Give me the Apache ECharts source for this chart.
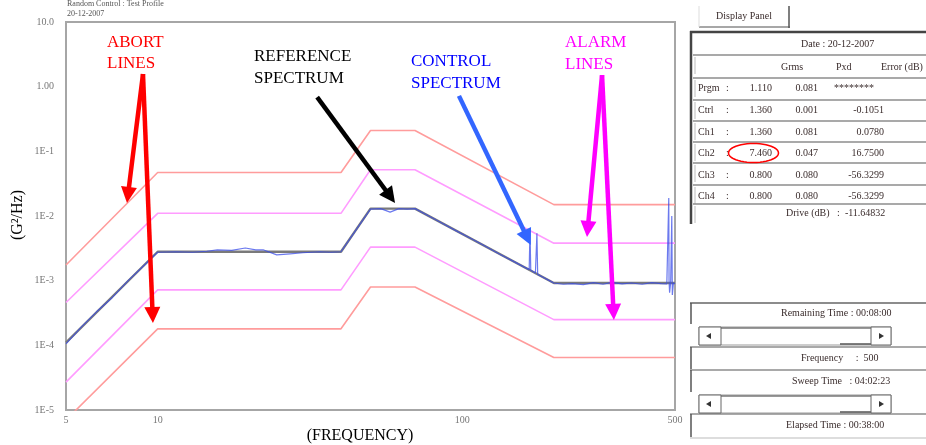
<!DOCTYPE html>
<html><head><meta charset="utf-8">
<script src="https://cdn.jsdelivr.net/npm/echarts@6/dist/echarts.min.js"></script>
<style>html,body{margin:0;padding:0;background:#fff;}#c{width:926px;height:445px;}</style>
</head><body><div id="c"></div>
<script>
// ---------- data ----------
const profileFreq   = [5, 10, 40, 50, 70, 200, 500];
const referencePsd  = [1.1e-4, 2.8e-3, 2.8e-3, 1.3e-2, 1.3e-2, 9.2e-4, 9.2e-4];
const alarmHighPsd  = [4.6e-4, 1.1e-2, 1.1e-2, 5.2e-2, 5.2e-2, 3.8e-3, 3.8e-3];
const alarmLowPsd   = [2.7e-5, 7.2e-4, 7.2e-4, 3.3e-3, 3.3e-3, 2.5e-4, 2.5e-4];
const abortHighPsd  = [1.75e-3, 4.7e-2, 4.7e-2, 0.21, 0.21, 1.5e-2, 1.5e-2];
const abortLowPsd   = [7e-6, 1.8e-4, 1.8e-4, 8e-4, 8e-4, 6.5e-5, 6.5e-5];

const controlFreq = [5, 5.6, 6.3, 7.1, 8, 9, 10, 11.5, 13, 14.5, 15.7, 17.5, 19.4, 21, 22.2, 24.6, 27.2, 30, 34, 37, 40,
  43, 46, 50, 54, 58, 62, 66, 70, 78, 86, 95, 105, 118, 132, 148, 160, 166, 167, 168, 174, 176, 177, 185, 192, 200,
  215, 230, 250, 270, 290, 310, 335, 360, 390, 420, 450, 470, 476, 477, 478, 480, 484, 488, 490, 494, 500];
const controlPsd = [1.05e-4, 1.9e-4, 3.3e-4, 5.5e-4, 1.0e-3, 1.7e-3, 2.75e-3, 2.8e-3, 2.75e-3, 2.85e-3, 3.0e-3, 2.95e-3,
  3.2e-3, 3.0e-3, 3.0e-3, 2.5e-3, 2.6e-3, 2.7e-3, 2.8e-3, 2.75e-3, 2.8e-3,
  4.6e-3, 7.3e-3, 1.28e-2, 1.3e-2, 1.15e-2, 1.3e-2, 1.28e-2, 1.3e-2, 9.9e-3, 7.7e-3, 6.0e-3, 4.7e-3, 3.5e-3, 2.6e-3,
  1.97e-3, 1.62e-3, 1.48e-3, 6.1e-3, 1.45e-3, 1.31e-3, 5.4e-3, 1.25e-3, 1.12e-3, 1.02e-3, 9.2e-4,
  8.8e-4, 9.0e-4, 8.7e-4, 9.3e-4, 8.8e-4, 9.4e-4, 8.9e-4, 9.2e-4, 8.8e-4, 9.3e-4, 9.0e-4, 8.9e-4, 9.0e-4, 1.9e-2,
  1.0e-3, 6.5e-4, 9.5e-4, 1.0e-2, 6.0e-4, 9.2e-4, 9.0e-4];

const xTickValues = [5, 10, 100, 500];
const xTickLabels = ['5', '10', '100', '500'];
const yTickValues = [10, 1, 0.1, 0.01, 0.001, 1e-4, 1e-5];
const yTickLabels = ['10.0', '1.00', '1E-1', '1E-2', '1E-3', '1E-4', '1E-5'];

// annotation arrows in data coordinates [freq, psd]
const arrowStarts = [[8.95, 1.57], [8.95, 1.57], [33.4, 0.69], [97.6, 0.72], [288, 1.51], [288, 1.51]];
const arrowTips   = [[7.93, 0.0159], [9.65, 2.22e-4], [60.2, 0.0159], [168, 3.56e-3], [257, 4.73e-3], [315, 2.47e-4]];
const arrowColors = ['#ff0000', '#ff0000', '#000000', '#3366ff', '#ff00ff', '#ff00ff'];

const panelRows = [
  ['Prgm', '1.110', '0.081', '********'],
  ['Ctrl', '1.360', '0.001', '-0.1051'],
  ['Ch1', '1.360', '0.081', '0.0780'],
  ['Ch2', '7.460', '0.047', '16.7500'],
  ['Ch3', '0.800', '0.080', '-56.3299'],
  ['Ch4', '0.800', '0.080', '-56.3299']
];

// ---------- chart ----------
function labelFor(v, vals, labels) {
  let best = 0, bd = Infinity;
  for (let i = 0; i < vals.length; i++) {
    const d = Math.abs(Math.log10(v) - Math.log10(vals[i]));
    if (d < bd) { bd = d; best = i; }
  }
  return bd < 0.05 ? labels[best] : '';
}
const zip = (a, b) => a.map((x, i) => [x, b[i]]);

const chart = echarts.init(document.getElementById('c'));
const SERIF = '"Liberation Serif", "DejaVu Serif", serif';
const lineSeries = (name, ys, color, w, z) => ({
  name, type: 'line', data: zip(profileFreq, ys), symbol: 'none', clip: true, z,
  lineStyle: { color, width: w }, silent: true
});

chart.setOption({
  animation: false,
  grid: { left: 66, right: 251, top: 22, bottom: 35, show: true, borderColor: '#a6a6a6', borderWidth: 2 },
  xAxis: {
    type: 'log', logBase: 10, min: 5, max: 500,
    axisLine: { show: false }, axisTick: { show: false }, splitLine: { show: false },
    axisLabel: { showMinLabel: true, showMaxLabel: true, color: '#777', fontSize: 10, fontFamily: SERIF, margin: 5,
      formatter: v => labelFor(v, xTickValues, xTickLabels) }
  },
  yAxis: {
    type: 'log', logBase: 10, min: 1e-5, max: 10,
    axisLine: { show: false }, axisTick: { show: false }, splitLine: { show: false },
    axisLabel: { showMinLabel: true, showMaxLabel: true, color: '#777', fontSize: 10, fontFamily: SERIF, margin: 12,
      formatter: v => labelFor(v, yTickValues, yTickLabels) }
  },
  series: [
    lineSeries('Abort high', abortHighPsd, '#ff9c9c', 1.6, 2),
    lineSeries('Abort low', abortLowPsd, '#ff9c9c', 1.6, 2),
    lineSeries('Alarm high', alarmHighPsd, '#ff9cff', 1.6, 2),
    lineSeries('Alarm low', alarmLowPsd, '#ff9cff', 1.6, 2),
    lineSeries('Reference', referencePsd, '#7a7a7a', 2.4, 3),
    { name: 'Control', type: 'line', data: zip(controlFreq, controlPsd), symbol: 'none', clip: true, z: 4,
      lineStyle: { color: '#3a4ce8', width: 1.2, opacity: 0.75 }, silent: true }
  ]
});

// ---------- overlays ----------
function arrowEls(p0, p1, color) {
  const dx = p1[0] - p0[0], dy = p1[1] - p0[1], L = Math.hypot(dx, dy);
  const ux = dx / L, uy = dy / L, hl = 16, hw = 8;
  const bx = p1[0] - ux * hl, by = p1[1] - uy * hl;
  return [
    { type: 'line', silent: true, z: 100, shape: { x1: p0[0], y1: p0[1], x2: bx + ux * 3, y2: by + uy * 3 },
      style: { stroke: color, lineWidth: 4.5, lineCap: 'butt' } },
    { type: 'polygon', silent: true, z: 100, shape: { points: [[p1[0], p1[1]], [bx - uy * hw, by + ux * hw], [bx + uy * hw, by - ux * hw]] },
      style: { fill: color } }
  ];
}
function txt(x, y, s, opt) {
  return Object.assign({ type: 'text', silent: true, z: 110, x, y,
    style: Object.assign({ text: s, fill: '#3a2c2c', font: '10px ' + SERIF, verticalAlign: 'middle' }, opt || {}) });
}
function bigTxt(x, y, s, color) {
  return { type: 'text', silent: true, z: 110, x, y,
    style: { text: s, fill: color, font: '17px ' + SERIF, verticalAlign: 'middle' } };
}
function ln(x1, y1, x2, y2, c, w) {
  return { type: 'line', silent: true, z: 90, shape: { x1, y1, x2, y2 }, style: { stroke: c, lineWidth: w || 1 } };
}
function scrollbar(y) {
  const els = [];
  els.push({ type: 'rect', silent: true, z: 90, shape: { x: 699, y, width: 192, height: 18 }, style: { fill: '#fff', stroke: '#9a9a9a', lineWidth: 1 } });
  els.push(ln(721, y + 1, 871, y + 1, '#777', 1.5));
  els.push(ln(840, y + 17, 871, y + 17, '#555', 1.5));
  [[699, 22], [871, 20]].forEach(([x, w]) => {
    els.push({ type: 'rect', silent: true, z: 91, shape: { x, y, width: w, height: 18 }, style: { fill: '#fff', stroke: '#666', lineWidth: 1 } });
    els.push(ln(x + 1, y + 17, x + w, y + 17, '#444', 1.5));
    els.push(ln(x + w - 1, y + 1, x + w - 1, y + 17, '#444', 1.5));
  });
  els.push({ type: 'polygon', silent: true, z: 92, shape: { points: [[706, y + 9], [711, y + 6], [711, y + 12]] }, style: { fill: '#333' } });
  els.push({ type: 'polygon', silent: true, z: 92, shape: { points: [[884, y + 9], [879, y + 6], [879, y + 12]] }, style: { fill: '#333' } });
  return els;
}

function buildOverlay() {
  const els = [];
  // annotation texts
  els.push(bigTxt(107, 43, 'ABORT', '#ff0000'), bigTxt(107, 64, 'LINES', '#ff0000'));
  els.push(bigTxt(254, 57, 'REFERENCE', '#000000'), bigTxt(254, 79, 'SPECTRUM', '#000000'));
  els.push(bigTxt(411, 62, 'CONTROL', '#0000ff'), bigTxt(411, 84, 'SPECTRUM', '#0000ff'));
  els.push(bigTxt(565, 43, 'ALARM', '#ff00ff'), bigTxt(565, 65, 'LINES', '#ff00ff'));
  // arrows
  for (let i = 0; i < arrowStarts.length; i++) {
    const p0 = chart.convertToPixel({ gridIndex: 0 }, arrowStarts[i]);
    const p1 = chart.convertToPixel({ gridIndex: 0 }, arrowTips[i]);
    els.push(...arrowEls(p0, p1, arrowColors[i]));
  }
  // axis titles
  els.push({ type: 'text', silent: true, z: 110, x: 18, y: 215, rotation: Math.PI / 2,
    style: { text: '(G²/Hz)', fill: '#000', font: '16px ' + SERIF, align: 'center', verticalAlign: 'middle' } });
  els.push({ type: 'text', silent: true, z: 110, x: 360, y: 436,
    style: { text: '(FREQUENCY)', fill: '#000', font: '16px ' + SERIF, align: 'center', verticalAlign: 'middle' } });
  // top-left header
  els.push(txt(67, 4, 'Random Control : Test Profile', { fill: '#555', font: '8px ' + SERIF }));
  els.push(txt(67, 14, '20-12-2007', { fill: '#555', font: '8px ' + SERIF }));

  // ----- right panel -----
  // tab
  els.push(ln(699, 27, 790, 27, '#8a8a8a', 1.5), ln(789, 6, 789, 28, '#555', 1.5), ln(699, 6, 699, 27, '#ddd', 1));
  els.push(txt(744, 16, 'Display Panel', { align: 'center' }));
  // main box
  els.push(ln(690, 32, 926, 32, '#444', 2.5), ln(691, 31, 691, 224, '#444', 2.5));
  [55, 78, 100, 121, 142, 163, 185, 204].forEach(y => {
    els.push(ln(693, y, 926, y, '#8c8c8c', 1.5));
    els.push(ln(695, y + 2, 695, y + 19, '#bbb', 1));
  });
  els.push(txt(801, 44, 'Date : 20-12-2007'));
  els.push(txt(781, 67, 'Grms'), txt(836, 67, 'Pxd'), txt(881, 67, 'Error (dB)'));
  const rowY = [88, 110, 132, 153, 175, 196];
  panelRows.forEach((r, i) => {
    const y = rowY[i];
    els.push(txt(698, y, r[0]), txt(726, y, ':'));
    els.push(txt(772, y, r[1], { align: 'right' }));
    els.push(txt(818, y, r[2], { align: 'right' }));
    els.push(txt(i === 0 ? 834 : 884, y, r[3], { align: i === 0 ? 'left' : 'right' }));
  });
  els.push(txt(786, 213, 'Drive (dB)   :  -11.64832'));
  // ellipse around Ch2 Grms
  const pts = [];
  for (let k = 0; k < 48; k++) { const a = k / 48 * Math.PI * 2; pts.push([753.5 + 25 * Math.cos(a), 153 + 9.5 * Math.sin(a)]); }
  els.push({ type: 'polygon', silent: true, z: 120, shape: { points: pts }, style: { fill: null, stroke: '#ff0000', lineWidth: 1.5 } });

  // bottom panel
  els.push(ln(690, 303, 926, 303, '#8c8c8c', 2), ln(691, 303, 691, 324, '#555', 1.5));
  els.push(txt(781, 313, 'Remaining Time : 00:08:00'));
  els.push(...scrollbar(327));
  els.push(ln(690, 347, 926, 347, '#8c8c8c', 1.5), ln(691, 347, 691, 369, '#555', 1.5));
  els.push(txt(801, 358, 'Frequency     :  500'));
  els.push(ln(690, 370, 926, 370, '#8c8c8c', 1.5), ln(691, 370, 691, 392, '#555', 1.5));
  els.push(txt(792, 381, 'Sweep Time   : 04:02:23'));
  els.push(...scrollbar(395));
  els.push(ln(690, 414, 926, 414, '#8c8c8c', 1.5), ln(691, 414, 691, 437, '#555', 1.5), ln(690, 438, 926, 438, '#bbb', 1));
  els.push(txt(786, 425, 'Elapsed Time : 00:38:00'));
  return els;
}
chart.setOption({ graphic: { elements: buildOverlay() } });
</script>
</body></html>
